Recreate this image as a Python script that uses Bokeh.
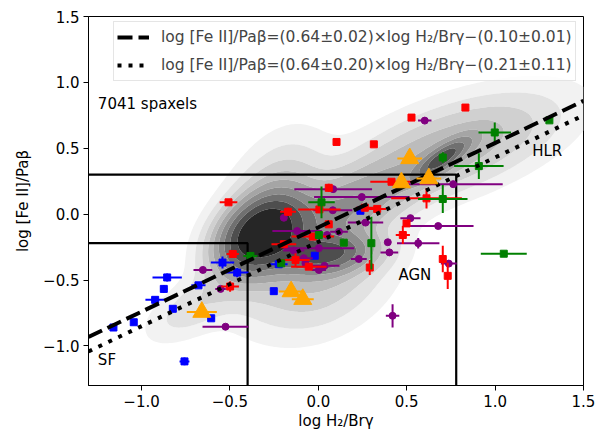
import numpy as np
from bokeh.plotting import figure
from bokeh.models import Legend, LegendItem, FixedTicker, Range1d
from bokeh.embed import file_html
from bokeh.resources import INLINE
from bokeh.core.properties import value

# ---------------- data ----------------
x_lim = [-1.3, 1.5]
y_lim = [-1.3, 1.5]
tick_values = [-1.0, -0.5, 0.0, 0.5, 1.0, 1.5]
tick_labels = ["\u22121.0", "\u22120.5", "0.0", "0.5", "1.0", "1.5"]

fit_slope = [0.64, 0.64]
fit_intercept = [-0.10, -0.21]
fit_labels = [
    "log [Fe II]/Pa\u03b2=(0.64\u00b10.02)\u00d7log H\u2082/Br\u03b3\u2212(0.10\u00b10.01)",
    "log [Fe II]/Pa\u03b2=(0.64\u00b10.20)\u00d7log H\u2082/Br\u03b3\u2212(0.21\u00b10.11)",
]

sf_x_max, sf_y_max = -0.40, -0.22
agn_x_max, agn_y_max = 0.78, 0.30

# KDE of the 7041 spaxels, described as a mixture of gaussian components
#          core   core-halo lobe  lobe-halo streak ridge  middle  tail
kde_mx = [-0.33, -0.27,    0.05,  0.00,     0.70,  0.75,  0.15,  -0.70]
kde_my = [-0.15, -0.02,   -0.30, -0.45,     0.42,  0.50,  0.05,  -0.70]
kde_sx = [0.15,   0.17,    0.17,  0.25,     0.10,  0.381, 0.25,   0.17]
kde_sy = [0.18,   0.33,    0.10,  0.28,     0.10,  0.259, 0.20,   0.17]
kde_rho = [0.35,  0.40,    0.20,  0.30,     0.80,  0.589, 0.60,   0.60]
kde_w = [1.00,    0.25,    0.55,  0.20,     0.55,  0.25,  0.30,   0.10]
kde_levels = [0.02, 0.05, 0.09, 0.14, 0.20, 0.28, 0.38, 0.50, 0.66, 1.01]

blue_x = [-0.855, -0.874, -0.923, -0.823, -1.044, -1.159, -0.757, -0.542, -0.459, -0.678, -0.606, -0.252, -0.020, 0.238, -0.224]
blue_y = [-0.480, -0.567, -0.650, -0.718, -0.820, -0.860, -1.117, -0.367, -0.443, -0.540, -0.790, -0.584, -0.315, 0.026, -0.380]
blue_xe = [0.083, 0.020, 0.055, 0.0, 0.0, 0.0, 0.028, 0.066, 0.064, 0.040, 0.020, 0.0, 0.0, 0.0, 0.050]
blue_ye = [0.030, 0.030, 0.020, 0.0, 0.0, 0.0, 0.030, 0.045, 0.035, 0.010, 0.020, 0.0, 0.0, 0.0, 0.020]

purple_x = [-0.653, -0.553, -0.525, 0.602, 0.763, 0.246, 0.521, 0.678, 0.084, 0.082, -0.195, -0.120, 0.117, 0.267, 0.050, 0.003, -0.139, -0.082, 0.035, 0.003, 0.393, 0.565, 0.402, 0.229, 0.738, 0.420, -0.073]
purple_y = [-0.423, -0.567, -0.854, 0.710, 0.228, 0.130, -0.030, -0.090, 0.190, 0.030, -0.027, -0.128, -0.133, -0.064, -0.158, -0.258, -0.276, -0.334, -0.392, -0.423, -0.213, -0.220, -0.290, -0.340, -0.375, -0.771, -0.372]
purple_xe = [0.053, 0.030, 0.130, 0.038, 0.280, 0.270, 0.057, 0.200, 0.220, 0.110, 0.0, 0.140, 0.050, 0.100, 0.0, 0.200, 0.060, 0.050, 0.085, 0.040, 0.0, 0.120, 0.050, 0.045, 0.045, 0.038, 0.0]
purple_ye = [0.0, 0.0, 0.0, 0.0, 0.0, 0.0, 0.0, 0.0, 0.0, 0.0, 0.0, 0.0, 0.0, 0.0, 0.0, 0.0, 0.0, 0.0, 0.0, 0.0, 0.0, 0.040, 0.0, 0.0, 0.0, 0.088, 0.0]

red_x = [-0.508, -0.484, -0.499, 0.527, 0.832, 0.103, 0.314, 0.414, 0.612, 0.263, 0.333, 0.059, 0.006, 0.499, 0.478, 0.291, 0.704, 0.732, -0.031, -0.054, 0.059, -0.171, -0.195, -0.129]
red_y = [0.090, -0.302, -0.549, 0.733, 0.809, 0.548, 0.530, 0.246, 0.120, 0.049, 0.040, 0.200, 0.036, -0.070, -0.158, -0.405, -0.340, -0.468, -0.170, -0.398, -0.077, 0.018, -0.228, -0.347]
red_xe = [0.050, 0.035, 0.050, 0.0, 0.0, 0.0, 0.0, 0.120, 0.200, 0.050, 0.050, 0.0, 0.120, 0.0, 0.040, 0.0, 0.0, 0.0, 0.120, 0.100, 0.0, 0.045, 0.070, 0.080]
red_ye = [0.0, 0.0, 0.040, 0.0, 0.0, 0.0, 0.0, 0.0, 0.076, 0.0, 0.0, 0.030, 0.0, 0.0, 0.068, 0.057, 0.100, 0.100, 0.0, 0.0, 0.0, 0.030, 0.0, 0.050]

green_x = [0.998, 1.307, 0.908, 0.704, 0.704, 0.300, 0.018, 0.003, 0.144, 1.049, -0.384, -0.210]
green_y = [0.620, 0.712, 0.365, 0.430, 0.115, -0.220, 0.090, -0.158, -0.216, -0.300, -0.317, -0.373]
green_xe = [0.092, 0.0, 0.140, 0.0, 0.140, 0.0, 0.075, 0.0, 0.0, 0.130, 0.040, 0.0]
green_ye = [0.076, 0.0, 0.098, 0.040, 0.107, 0.200, 0.120, 0.0, 0.0, 0.0, 0.0, 0.0]

orange_x = [-0.659, -0.154, -0.088, 0.517, 0.470, 0.625]
orange_y = [-0.743, -0.587, -0.645, 0.423, 0.240, 0.270]
orange_xe = [0.085, 0.070, 0.062, 0.070, 0.020, 0.070]

# ---------------- figure ----------------
FONT = "DejaVu Sans"
FS = "15px"
p = figure(width=599, height=432, output_backend="svg", toolbar_location=None,
           x_range=Range1d(*x_lim), y_range=Range1d(*y_lim),
           min_border_left=88, min_border_right=16, min_border_top=16, min_border_bottom=46)
p.grid.visible = False
p.outline_line_color = "black"
p.outline_line_width = 1
p.background_fill_color = "white"
p.border_fill_color = "white"

for ax in (p.xaxis[0], p.yaxis[0]):
    ax.ticker = FixedTicker(ticks=tick_values)
    ax.major_label_overrides = {v: l for v, l in zip(tick_values, tick_labels)}
    ax.major_label_text_font = FONT
    ax.major_label_text_font_size = FS
    ax.major_label_text_color = "black"
    ax.axis_label_text_font = FONT
    ax.axis_label_text_font_size = FS
    ax.axis_label_text_font_style = "normal"
    ax.axis_label_text_color = "black"
    ax.major_tick_in = 0
    ax.major_tick_out = 5
    ax.minor_tick_line_color = None
    ax.axis_line_color = "black"
    ax.major_tick_line_color = "black"
p.xaxis.axis_label = "log H\u2082/Br\u03b3"
p.yaxis.axis_label = "log [Fe II]/Pa\u03b2"
p.xaxis.major_label_standoff = 4
p.xaxis.axis_label_standoff = 2
p.yaxis.major_label_standoff = 4
p.yaxis.axis_label_standoff = 8

# KDE contours
gx = np.linspace(x_lim[0], x_lim[1], 281)
gy = np.linspace(y_lim[0], y_lim[1], 281)
GX, GY = np.meshgrid(gx, gy)
Z = np.zeros_like(GX)
for mx, my, sx, sy, r, w in zip(kde_mx, kde_my, kde_sx, kde_sy, kde_rho, kde_w):
    dx = (GX - mx) / sx
    dy = (GY - my) / sy
    Z += w * np.exp(-(dx * dx - 2 * r * dx * dy + dy * dy) / (2 * (1 - r * r)))
Z = Z / Z.max()
greys = ["#f2f2f2", "#e2e2e2", "#d0d0d0", "#bcbcbc", "#a5a5a5", "#8c8c8c", "#707070", "#4e4e4e", "#262626"]
p.contour(x=gx, y=gy, z=Z, levels=kde_levels, fill_color=greys, line_color=None)

# region boxes
p.line([x_lim[0], sf_x_max, sf_x_max], [sf_y_max, sf_y_max, y_lim[0]], line_color="black", line_width=2.2)
p.line([x_lim[0], agn_x_max, agn_x_max], [agn_y_max, agn_y_max, y_lim[0]], line_color="black", line_width=2.2)

# data points with error bars
def pts(xs, ys, xe, ye, color, marker, size):
    xs = np.array(xs); ys = np.array(ys); xe = np.array(xe); ye = np.array(ye)
    p.segment(xs - xe, ys, xs + xe, ys, line_color=color, line_width=2)
    p.segment(xs, ys - ye, xs, ys + ye, line_color=color, line_width=2)
    p.scatter(xs, ys, marker=marker, size=size, fill_color=color, line_color=color)

pts(blue_x, blue_y, blue_xe, blue_ye, "blue", "square", 7)
pts(purple_x, purple_y, purple_xe, purple_ye, "purple", "circle", 7)
pts(red_x, red_y, red_xe, red_ye, "red", "square", 7)
pts(green_x, green_y, green_xe, green_ye, "green", "square", 7)

# fits
lx = np.array(x_lim)
dashes = ["15 6", "4 7"]
fit_renderers = []
for s, b, d in zip(fit_slope, fit_intercept, dashes):
    r = p.line(lx, s * lx + b, line_color="black", line_width=4, line_dash=d)
    fit_renderers.append(r)

ox = np.array(orange_x); oy = np.array(orange_y); oxe = np.array(orange_xe)
p.segment(ox - oxe, oy, ox + oxe, oy, line_color="orange", line_width=2)
p.scatter(ox, oy, marker="triangle", size=18, fill_color="orange", line_color="orange")

# annotations
for tx, ty, tt in [(-1.247, 0.834, "7041 spaxels"), (-1.247, -1.11, "SF"), (0.453, -0.46, "AGN"), (1.21, 0.478, "HLR")]:
    p.text(x=[tx], y=[ty], text=[tt], text_font=value(FONT), text_font_size=FS,
           text_align="left", text_baseline="middle", text_color="black")

legend = Legend(items=[LegendItem(label=l, renderers=[r]) for l, r in zip(fit_labels, fit_renderers)],
                location=(25, 304), glyph_width=32, glyph_height=24, label_height=24,
                label_standoff=12, spacing=4, padding=3, margin=0,
                label_text_font=FONT, label_text_font_size="15.5px",
                border_line_color="#cccccc", border_line_width=1,
                background_fill_color="white", background_fill_alpha=0.8)
p.add_layout(legend)

open("out.html", "w").write(file_html(p, INLINE))
